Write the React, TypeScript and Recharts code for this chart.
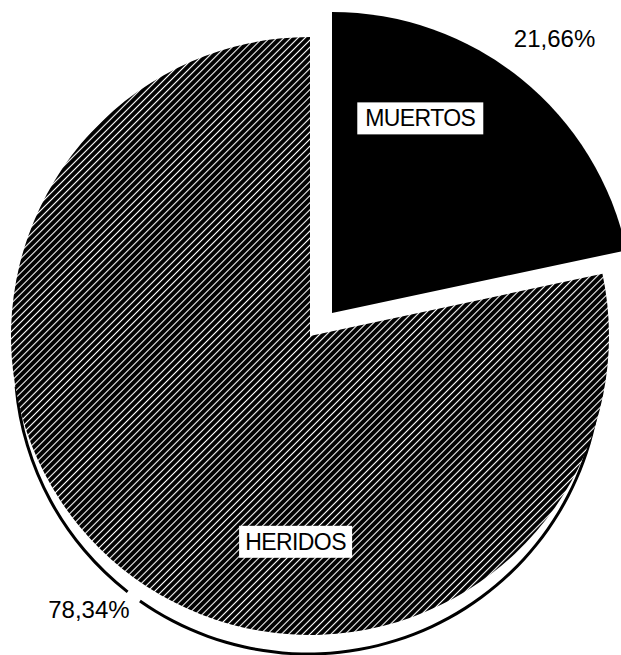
import { Cell, Pie, PieChart } from "recharts";

const categories = ["MUERTOS", "HERIDOS"];
const percentages = [21.66, 78.34];
// the drop-shadow rim under the pie is broken once, near the 78,34% label
const shadowArcs = [47, 120];

const data = categories.map((name, i) => ({ name, value: percentages[i] }));
const shadowData = shadowArcs.map((value, i) => ({ name: `arc${i}`, value }));

const RAD = Math.PI / 180;
const FONT = "'Liberation Sans', Arial, Helvetica, sans-serif";

// where the boxed name sits inside its slice (degrees, fraction of radius)
const boxPlacement = [
  { angle: 65.6, radius: 0.71, width: 126 },
  { angle: -94, radius: 0.69, width: 113 },
];

const polar = (cx: number, cy: number, r: number, angle: number) => ({
  x: cx + r * Math.cos(-angle * RAD),
  y: cy + r * Math.sin(-angle * RAD),
});

const makeLabel = (visibleIndex: number) => (props: any) => {
  const { cx, cy, midAngle, outerRadius, index, value, payload } = props;
  if (index !== visibleIndex) return null;
  const box = boxPlacement[index];
  const b = polar(cx, cy, outerRadius * box.radius, box.angle);
  const p = polar(cx, cy, outerRadius * 1.175, midAngle);
  return (
    <g>
      <rect
        x={b.x - box.width / 2}
        y={b.y - 16}
        width={box.width}
        height={32}
        fill="#fff"
      />
      <text
        x={b.x}
        y={b.y + 8}
        textAnchor="middle"
        fontSize={23}
        letterSpacing={-0.6}
        fontFamily={FONT}
        fill="#000"
      >
        {payload.name}
      </text>
      <text
        x={p.x}
        y={p.y + 9}
        textAnchor="middle"
        fontSize={24}
        fontFamily={FONT}
        fill="#000"
      >
        {Number(value).toFixed(2).replace(".", ",")}%
      </text>
    </g>
  );
};

export default function App() {
  return (
    <div style={{ position: "absolute", left: 0, top: 0, background: "#fff" }}>
      <PieChart width={621} height={655} margin={{ top: 0, right: 0, bottom: 0, left: 0 }}>
        <defs>
          <pattern
            id="hatch"
            patternUnits="userSpaceOnUse"
            width="5"
            height="5"
            patternTransform="rotate(-45)"
          >
            <rect width="5" height="5" fill="#000" />
            <line x1="0" y1="2.5" x2="5" y2="2.5" stroke="#fff" strokeWidth="1.1" />
          </pattern>
        </defs>
        {/* shadow rim */}
        <Pie
          data={shadowData}
          dataKey="value"
          cx={308}
          cy={361}
          innerRadius={291.5}
          outerRadius={294.5}
          startAngle={185}
          endAngle={355}
          paddingAngle={3}
          stroke="none"
          fill="#000"
          isAnimationActive={false}
        />
        {/* HERIDOS */}
        <Pie
          data={data}
          dataKey="value"
          nameKey="name"
          cx={310}
          cy={336}
          outerRadius={299}
          startAngle={90}
          endAngle={-270}
          stroke="none"
          labelLine={false}
          label={makeLabel(1)}
          isAnimationActive={false}
        >
          <Cell fill="none" />
          <Cell fill="url(#hatch)" />
        </Pie>
        {/* MUERTOS, pulled out */}
        <Pie
          data={data}
          dataKey="value"
          nameKey="name"
          cx={332}
          cy={313}
          outerRadius={301}
          startAngle={90}
          endAngle={-270}
          stroke="none"
          labelLine={false}
          label={makeLabel(0)}
          isAnimationActive={false}
        >
          <Cell fill="#000" />
          <Cell fill="none" />
        </Pie>
      </PieChart>
    </div>
  );
}
